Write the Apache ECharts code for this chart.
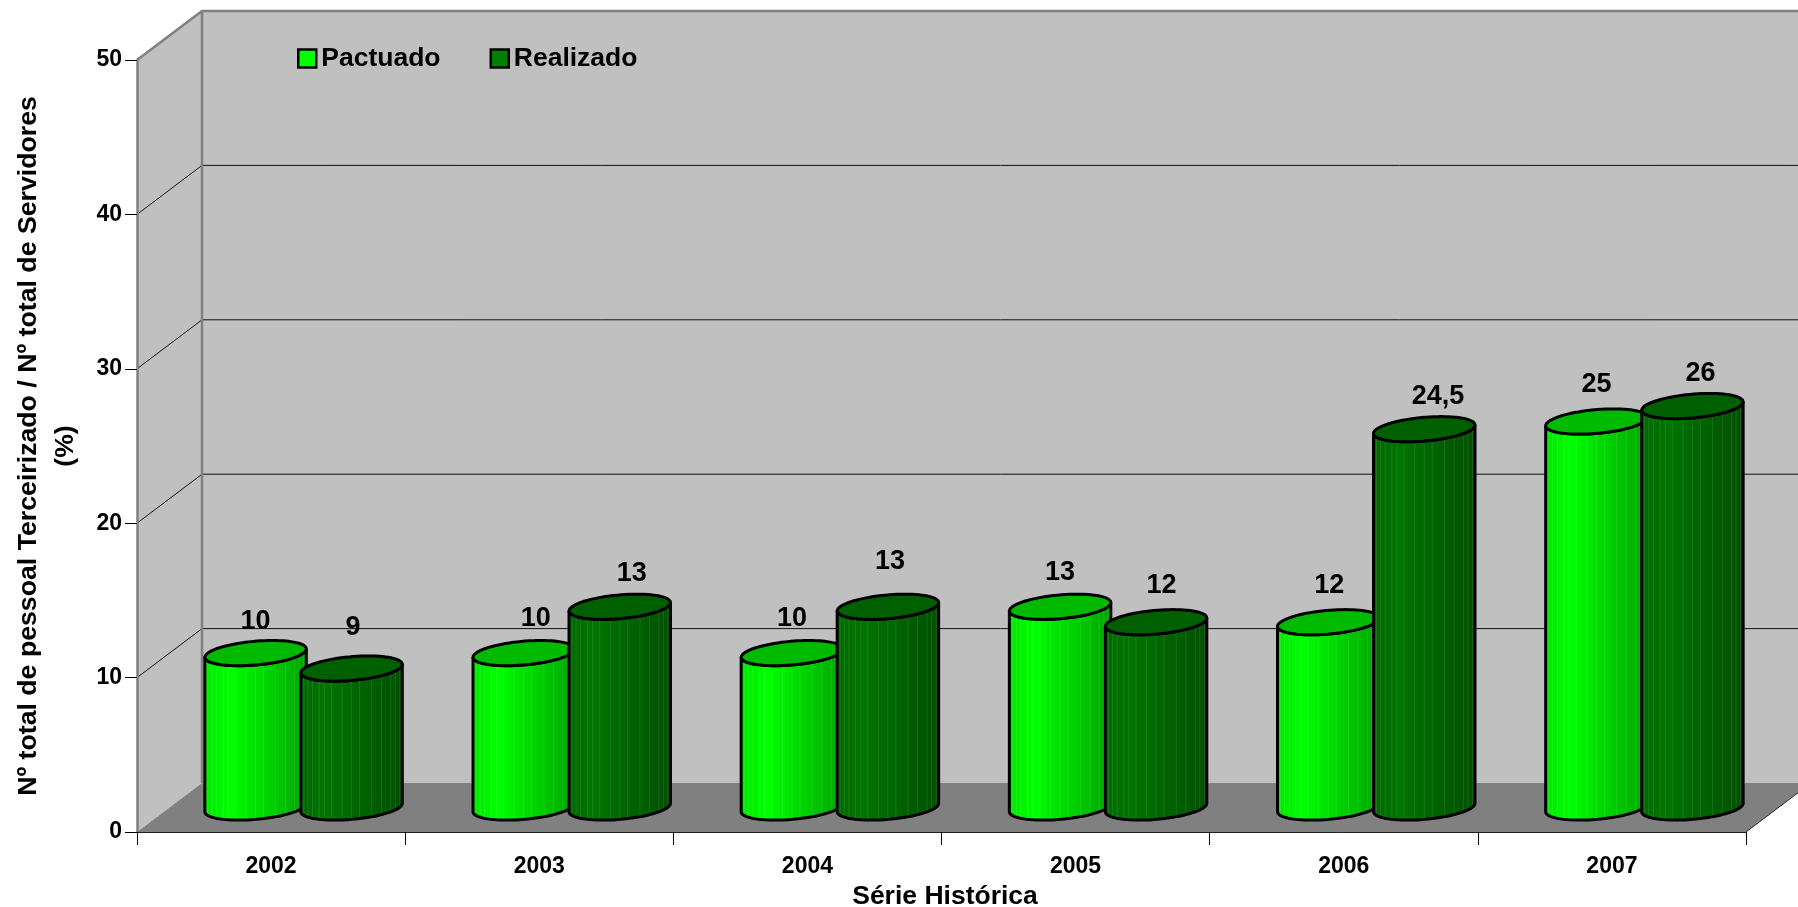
<!DOCTYPE html>
<html>
<head>
<meta charset="utf-8">
<style>html,body{margin:0;height:100%;background:#fff}#chart{width:1798px;height:907px}</style>
<script src="https://cdn.jsdelivr.net/npm/echarts@6/dist/echarts.min.js"></script>
</head>
<body>
<div id="chart"></div>
<script>
var anos = ['2002', '2003', '2004', '2005', '2006', '2007'];
var pactuado = [10, 10, 10, 13, 12, 25];
var realizado = [9, 13, 13, 12, 24.5, 26];
var yTicks = [0, 10, 20, 30, 40, 50];

// rotulos foram movidos a mao no original
var nudgePactuado = [[0, -32], [12, -35], [0, -35], [0, -34], [1, -37], [0, -37]];
var nudgeRealizado = [[1.5, -40.5], [12, -33], [2, -45], [5.5, -37], [13.7, -33], [8, -33]];

var fonte = '"Liberation Sans", Arial, sans-serif';
var DX = 65, DY = 49; // profundidade da caixa 3D

var myChart = echarts.init(document.getElementById('chart'));

function paredes(params, api) {
    var p0 = api.coord([0, 0]);
    var band = api.size([1, 0])[0];
    var x0 = p0[0] - band / 2;
    var x1 = x0 + band * anos.length;
    var y0 = p0[1];
    var yt = api.coord([0, 50])[1];
    var cinza = { stroke: '#808080', lineWidth: 2.5 };
    var kids = [
        { type: 'polygon', shape: { points: [[x0 + DX, yt - DY], [x1 + DX, yt - DY], [x1 + DX, y0 - DY], [x0 + DX, y0 - DY]] }, style: { fill: '#C0C0C0' } },
        { type: 'polygon', shape: { points: [[x0, yt], [x0 + DX, yt - DY], [x0 + DX, y0 - DY], [x0, y0]] }, style: { fill: '#C0C0C0' } },
        { type: 'polygon', shape: { points: [[x0, y0], [x0 + DX, y0 - DY], [x1 + DX, y0 - DY], [x1, y0]] }, style: { fill: '#808080' } }
    ];
    yTicks.forEach(function (v) {
        if (v === 0 || v === 50) return;
        var y = api.coord([0, v])[1];
        kids.push({ type: 'polyline', shape: { points: [[x0, y], [x0 + DX, y - DY], [x1 + DX, y - DY]] }, style: { fill: 'none', stroke: '#111', lineWidth: 1 } });
    });
    kids.push({ type: 'polyline', shape: { points: [[x0, yt], [x0 + DX, yt - DY], [x1 + DX, yt - DY]] }, style: Object.assign({ fill: 'none' }, cinza) });
    kids.push({ type: 'line', shape: { x1: x0 + DX, y1: yt - DY, x2: x0 + DX, y2: y0 - DY }, style: cinza });
    kids.push({ type: 'line', shape: { x1: x1, y1: y0, x2: x1 + DX, y2: y0 - DY }, style: { stroke: '#222', lineWidth: 1 } });
    return { type: 'group', children: kids };
}

function cilindro(lado, cores, nudges) {
    return function (params, api) {
        var i = api.value(0), v = api.value(1);
        var band = api.size([1, 0])[0];
        var off = lado * band * 0.179;
        var base = api.coord([i, 0]);
        var topo = api.coord([i, v]);
        var cx = base[0] + DX / 2 + off;
        var yb = base[1] - DY / 2, yt = topo[1] - DY / 2;
        var A = 47.8, B = 17, C = 12.6;
        var t0 = Math.atan2(B, A);
        function pt(t, yc) {
            return [cx + A * Math.cos(t) + B * Math.sin(t), yc - C * Math.sin(t)];
        }
        var corpo = [], tampa = [], k, t;
        for (k = 0; k <= 40; k++) corpo.push(pt(t0 - Math.PI * k / 40, yb));
        for (k = 0; k <= 40; k++) corpo.push(pt(t0 - Math.PI + Math.PI * k / 40, yt));
        for (k = 0; k < 80; k++) tampa.push(pt(Math.PI * 2 * k / 80, yt));
        var grad = new echarts.graphic.LinearGradient(0, 0, 1, 0, [
            { offset: 0, color: cores[0] }, { offset: 0.25, color: cores[1] }, { offset: 1, color: cores[2] }
        ]);
        var kids = [{ type: 'polygon', shape: { points: corpo }, style: { fill: grad } }];
        // faixas verticais finas do cilindro
        [0.1, 0.17, 0.22, 0.3, 0.37, 0.45, 0.5, 0.56, 0.63, 0.68, 0.72, 0.78, 0.83, 0.89, 0.94].forEach(function (f) {
            t = t0 - Math.PI * f;
            kids.push({ type: 'line', shape: { x1: pt(t, yb)[0], y1: pt(t, yb)[1], x2: pt(t, yt)[0], y2: pt(t, yt)[1] }, style: { stroke: 'rgba(255,255,255,0.1)', lineWidth: 1 } });
        });
        kids.push({ type: 'polygon', shape: { points: corpo }, style: { fill: 'none', stroke: '#000', lineWidth: 3 } });
        kids.push({ type: 'polygon', shape: { points: tampa }, style: { fill: cores[3], stroke: '#000', lineWidth: 3 } });
        var n = nudges[i];
        kids.push({ type: 'text', style: {
            text: String(v).replace('.', ','), x: cx + n[0], y: yt + n[1],
            textAlign: 'center', textVerticalAlign: 'middle',
            font: 'bold 27px ' + fonte, fill: '#000'
        } });
        return { type: 'group', children: kids };
    };
}

var option = {
    animation: false,
    textStyle: { fontFamily: fonte },
    grid: { left: 137, right: 52, top: 60, bottom: 75, containLabel: false, outerBoundsMode: 'none' },
    legend: {
        data: ['Pactuado', 'Realizado'],
        left: 292, top: 40, icon: 'rect',
        itemWidth: 18, itemHeight: 18, itemGap: 49,
        itemStyle: { borderColor: '#000', borderWidth: 2.5 },
        textStyle: { fontFamily: fonte, fontWeight: 'bold', fontSize: 26.5, color: '#000' }
    },
    xAxis: {
        type: 'category', data: anos, z: 5,
        name: 'Série Histórica', nameLocation: 'center', nameGap: 45,
        nameTextStyle: { fontFamily: fonte, fontWeight: 'bold', fontSize: 26.5, color: '#000', padding: [0, 0, 0, 7] },
        axisLine: { lineStyle: { color: '#222', width: 1 } },
        axisTick: { show: true, alignWithLabel: false, length: 13, lineStyle: { color: '#000', width: 1 } },
        axisLabel: { fontFamily: fonte, fontWeight: 'bold', fontSize: 23, color: '#000', margin: 23 }
    },
    yAxis: {
        type: 'value', min: 0, max: 50, interval: 10, z: 5,
        name: 'Nº total de pessoal Terceirizado / Nº total de Servidores\n(%)',
        nameLocation: 'center', nameGap: 53, nameRotate: 90,
        nameTextStyle: { fontFamily: fonte, fontWeight: 'bold', fontSize: 26.7, color: '#000', lineHeight: 37 },
        splitLine: { show: false },
        axisLine: { show: true, lineStyle: { color: '#808080', width: 2.5 } },
        axisTick: { show: true, length: 12, lineStyle: { color: '#000', width: 1 } },
        axisLabel: { fontFamily: fonte, fontWeight: 'bold', fontSize: 23, color: '#000', margin: 15 }
    },
    series: [
        { type: 'custom', name: 'caixa', z: 1, silent: true, clip: false, data: [[0, 0]], encode: { x: 0, y: 1 }, renderItem: paredes },
        {
            type: 'custom', name: 'Pactuado', z: 2, clip: false,
            itemStyle: { color: '#00FF00' },
            encode: { x: 0, y: 1 },
            data: pactuado.map(function (v, i) { return [i, v]; }),
            renderItem: cilindro(-1, ['#00E800', '#00FF00', '#00A400', '#00BA00'], nudgePactuado)
        },
        {
            type: 'custom', name: 'Realizado', z: 3, clip: false,
            itemStyle: { color: '#008000' },
            encode: { x: 0, y: 1 },
            data: realizado.map(function (v, i) { return [i, v]; }),
            renderItem: cilindro(1, ['#006A00', '#007400', '#005000', '#006000'], nudgeRealizado)
        }
    ]
};

myChart.setOption(option);

window.addEventListener('resize', function () {
    myChart.resize();
});
</script>
</body>
</html>
